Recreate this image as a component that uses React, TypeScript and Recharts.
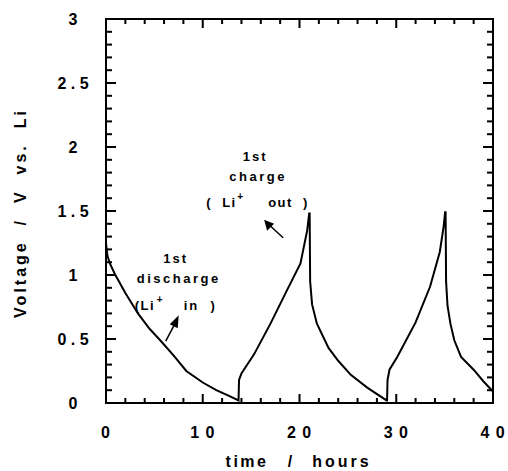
import { LineChart, Line, XAxis, YAxis, ReferenceDot, ReferenceArea } from 'recharts'

// time (hours) and cell voltage (V vs. Li)
const timeHours = [
  0, 0.15, 0.4, 0.9, 2, 3.3, 4.5, 5.6, 7, 8.3, 10, 11.4, 12.6, 13.7,
  13.75, 14.0, 15.3, 17, 18.7, 20.1, 20.8, 21.0,
  21.05, 21.1, 21.3, 21.8, 23, 24, 25.3, 27, 29.0,
  29.05, 29.1, 29.3, 30.1, 32, 33.5, 34.5, 34.9, 35.05,
  35.1, 35.15, 35.3, 35.6, 36.0, 36.7, 38, 39, 40
]
const voltage = [
  1.25, 1.15, 1.09, 1.01, 0.86, 0.7, 0.58, 0.49, 0.37, 0.25, 0.16, 0.1, 0.06, 0.02,
  0.18, 0.23, 0.38, 0.62, 0.88, 1.09, 1.35, 1.48,
  1.48, 0.95, 0.77, 0.62, 0.43, 0.33, 0.22, 0.12, 0.02,
  0.02, 0.18, 0.26, 0.36, 0.63, 0.91, 1.18, 1.38, 1.49,
  1.49, 0.95, 0.76, 0.62, 0.49, 0.36, 0.26, 0.17, 0.09
]

const xTicks = [0, 2, 4, 6, 8, 10, 12, 14, 16, 18, 20, 22, 24, 26, 28, 30, 32, 34, 36, 38, 40]
const xMajorTicks = [0, 10, 20, 30, 40]
const xTickLabels = ['0', '1 0', '2 0', '3 0', '4 0']

const yTicks = [
  0, 0.1, 0.2, 0.3, 0.4, 0.5, 0.6, 0.7, 0.8, 0.9, 1, 1.1, 1.2, 1.3, 1.4, 1.5,
  1.6, 1.7, 1.8, 1.9, 2, 2.1, 2.2, 2.3, 2.4, 2.5, 2.6, 2.7, 2.8, 2.9, 3
]
const yMajorTicks = [0, 0.5, 1, 1.5, 2, 2.5, 3]
const yTickLabels = ['0', '0 . 5', '1', '1 . 5', '2', '2 . 5', '3']

// where the two notes sit (hours, volts)
const dischargeNoteAt = { t: 7, v: 1.1 }
const chargeNoteAt = { t: 15, v: 1.9 }

const data = timeHours.map((t, i) => ({ t, v: voltage[i] }))

const font = "'Liberation Sans', Arial, sans-serif"
const txt = { fontFamily: font, fontWeight: 'bold' as const, fill: '#000' }

const majorIndex = (list: number[], v: number) => list.findIndex((m) => Math.abs(m - v) < 1e-6)

const BottomTick = (props: any) => {
  const { x, y, payload } = props
  const idx = majorIndex(xMajorTicks, payload.value)
  if (idx < 0) return <g />
  return (
    <text x={x} y={y + 35} textAnchor="middle" fontSize={16} letterSpacing={1} {...txt}>
      {xTickLabels[idx]}
    </text>
  )
}

const LeftTick = (props: any) => {
  const { x, y, payload } = props
  const idx = majorIndex(yMajorTicks, payload.value)
  if (idx < 0) return <g />
  return (
    <text x={x - 33} y={y + 6} textAnchor="middle" fontSize={16} {...txt}>
      {yTickLabels[idx]}
    </text>
  )
}

// inward tick mark drawn at a reference dot
const TickMark = (props: any) => {
  const { viewBox, side, len } = props
  const cx = viewBox.x + viewBox.width / 2
  const cy = viewBox.y + viewBox.height / 2
  if (side === 'bottom') return <rect x={cx - 1} y={cy - len} width={2} height={len} fill="#000" />
  if (side === 'top') return <rect x={cx - 1} y={cy} width={2} height={len} fill="#000" />
  if (side === 'left') return <rect x={cx} y={cy - 1} width={len} height={2} fill="#000" />
  return <rect x={cx - len} y={cy - 1} width={len} height={2} fill="#000" />
}

// box around the plot area
const FrameBox = (props: any) => {
  const { x, y, width, height } = props.viewBox
  return <rect x={x} y={y} width={width} height={height} fill="none" stroke="#000" strokeWidth={2} />
}

const XTitle = (props: any) => {
  const { x, y } = props.viewBox
  return (
    <g>
      <text x={x + 141} y={y + 64} textAnchor="middle" fontSize={16} letterSpacing={2.5} {...txt}>time</text>
      <text x={x + 184} y={y + 64} textAnchor="middle" fontSize={16} {...txt}>/</text>
      <text x={x + 236} y={y + 64} textAnchor="middle" fontSize={16} letterSpacing={3} {...txt}>hours</text>
    </g>
  )
}

const YTitle = (props: any) => {
  const { x, y, height } = props.viewBox
  return (
    <text
      transform={`translate(${x + 26},${y + height / 2 + 2}) rotate(-90)`}
      textAnchor="middle"
      fontSize={16}
      letterSpacing={3}
      style={{ whiteSpace: 'pre' }}
      {...txt}
    >
      {'Voltage  /  V  vs.  Li'}
    </text>
  )
}

const DischargeNote = (props: any) => {
  const { x, y, width, height } = props.viewBox
  return (
    <g transform={`translate(${x + width / 2},${y + height / 2})`}>
      <text x={2} y={1} textAnchor="middle" fontSize={13} letterSpacing={2} {...txt}>1st</text>
      <text x={5} y={21} textAnchor="middle" fontSize={13} letterSpacing={2.5} {...txt}>discharge</text>
      <text x={-39} y={48} fontSize={13} letterSpacing={1.5} {...txt}>(Li</text>
      <text x={-17} y={41} fontSize={10} {...txt}>+</text>
      <text x={10} y={48} fontSize={13} letterSpacing={2} style={{ whiteSpace: 'pre' }} {...txt}>{'in  )'}</text>
      <line x1={-8} y1={79} x2={1} y2={62} stroke="#000" strokeWidth={1.5} />
      <polygon points="5,53 -4,62 4,66" fill="#000" />
    </g>
  )
}

const ChargeNote = (props: any) => {
  const { x, y, width, height } = props.viewBox
  return (
    <g transform={`translate(${x + width / 2},${y + height / 2})`}>
      <text x={4} y={1} textAnchor="middle" fontSize={13} letterSpacing={2} {...txt}>1st</text>
      <text x={7} y={21} textAnchor="middle" fontSize={13} letterSpacing={2.5} {...txt}>charge</text>
      <text x={-45} y={47} fontSize={13} letterSpacing={1.5} style={{ whiteSpace: 'pre' }} {...txt}>{'(  Li'}</text>
      <text x={-14} y={40} fontSize={10} {...txt}>+</text>
      <text x={17} y={47} fontSize={13} letterSpacing={1.5} style={{ whiteSpace: 'pre' }} {...txt}>{'out  )'}</text>
      <line x1={32} y1={78} x2={19} y2={66} stroke="#000" strokeWidth={1.5} />
      <polygon points="13,60 16,71 23,64" fill="#000" />
    </g>
  )
}

const isXMajor = (t: number) => majorIndex(xMajorTicks, t) >= 0
const isYMajor = (v: number) => majorIndex(yMajorTicks, v) >= 0

export default function App() {
  return (
    <div style={{ position: 'absolute', left: 0, top: 0, width: 508, height: 471 }}>
      <LineChart width={508} height={471} data={data} margin={{ top: 19, right: 15, bottom: 0, left: 0 }}>
        <XAxis
          dataKey="t"
          type="number"
          domain={[0, 40]}
          ticks={xTicks}
          interval={0}
          height={68}
          tickSize={0}
          tickMargin={0}
          tickLine={false}
          axisLine={{ stroke: '#000', strokeWidth: 2 }}
          tick={<BottomTick />}
          label={<XTitle />}
        />
        <YAxis
          type="number"
          domain={[0, 3]}
          ticks={yTicks}
          interval={0}
          width={106}
          tickSize={0}
          tickMargin={0}
          tickLine={false}
          axisLine={{ stroke: '#000', strokeWidth: 2 }}
          tick={<LeftTick />}
          label={<YTitle />}
        />

        <ReferenceArea x1={0} x2={40} y1={0} y2={3} fill="none" fillOpacity={0} stroke="none" label={<FrameBox />} />

        {xTicks.map((t) => {
          const len = isXMajor(t) ? 9 : 5
          return [
            <ReferenceDot key={`b${t}`} x={t} y={0} r={1} fill="none" stroke="none" label={<TickMark side="bottom" len={len} />} />,
            <ReferenceDot key={`t${t}`} x={t} y={3} r={1} fill="none" stroke="none" label={<TickMark side="top" len={len} />} />
          ]
        })}
        {yTicks.map((v) => {
          const len = isYMajor(v) ? 10 : 6
          return [
            <ReferenceDot key={`l${v}`} x={0} y={v} r={1} fill="none" stroke="none" label={<TickMark side="left" len={len} />} />,
            <ReferenceDot key={`r${v}`} x={40} y={v} r={1} fill="none" stroke="none" label={<TickMark side="right" len={len} />} />
          ]
        })}

        <Line
          type="linear"
          dataKey="v"
          stroke="#000"
          strokeWidth={2}
          dot={false}
          activeDot={false}
          isAnimationActive={false}
        />
        <ReferenceDot x={dischargeNoteAt.t} y={dischargeNoteAt.v} r={1} fill="none" stroke="none" label={<DischargeNote />} />
        <ReferenceDot x={chargeNoteAt.t} y={chargeNoteAt.v} r={1} fill="none" stroke="none" label={<ChargeNote />} />
      </LineChart>
    </div>
  )
}
